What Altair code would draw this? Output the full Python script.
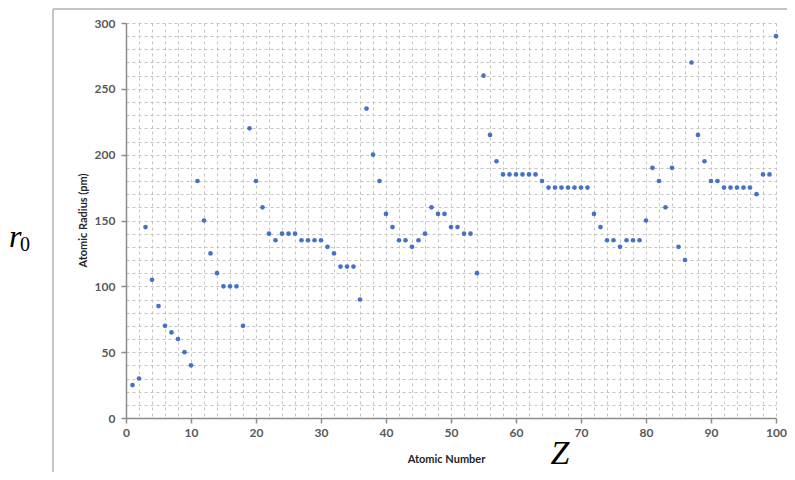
import altair as alt
import pandas as pd

atomic_number = list(range(1, 101))
atomic_radius = [
    25, 30, 145, 105, 85, 70, 65, 60, 50, 40,
    180, 150, 125, 110, 100, 100, 100, 70, 220, 180,
    160, 140, 135, 140, 140, 140, 135, 135, 135, 135,
    130, 125, 115, 115, 115, 90, 235, 200, 180, 155,
    145, 135, 135, 130, 135, 140, 160, 155, 155, 145,
    145, 140, 140, 110, 260, 215, 195, 185, 185, 185,
    185, 185, 185, 180, 175, 175, 175, 175, 175, 175,
    175, 155, 145, 135, 135, 130, 135, 135, 135, 150,
    190, 180, 160, 190, 130, 120, 270, 215, 195, 180,
    180, 175, 175, 175, 175, 175, 170, 185, 185, 290,
]
x_title = "Atomic Number"
y_title = "Atomic Radius (pm)"

df = pd.DataFrame({"Z": atomic_number, "r": atomic_radius})
one = pd.DataFrame({"a": [0]})

FONT = "Lato"

x_axis = alt.Axis(
    values=list(range(0, 101, 2)),
    labelExpr="datum.value % 10 === 0 ? datum.label : ''",
    tickOpacity={"condition": {"test": "datum.value % 10 === 0", "value": 1}, "value": 0},
    tickSize=5,
    labelPadding=4,
    labelFlush=False,
    titleX=320,
    titleY=41,
    titleBaseline="middle",
)
y_axis = alt.Axis(
    values=list(range(0, 301, 10)),
    labelExpr="datum.value % 50 === 0 ? datum.label : ''",
    tickOpacity={"condition": {"test": "datum.value % 50 === 0", "value": 1}, "value": 0},
    tickSize=5,
    labelPadding=6,
    labelFlush=False,
    titleX=-43,
    titleY=197,
    titleBaseline="middle",
    titleAngle=-90,
)

points = alt.Chart(df).mark_circle(size=22, opacity=1, color="#4472C4").encode(
    x=alt.X("Z:Q", scale=alt.Scale(domain=[0, 100], nice=False), axis=x_axis, title=x_title),
    y=alt.Y("r:Q", scale=alt.Scale(domain=[0, 300], nice=False), axis=y_axis, title=y_title),
)

frame_v = alt.Chart(one).mark_rule(color="#c4c4c4", strokeWidth=2).encode(
    x=alt.value(-73), y=alt.value(-14), y2=alt.value(460)
)
frame_h = alt.Chart(one).mark_rule(color="#c4c4c4", strokeWidth=2).encode(
    y=alt.value(-14), x=alt.value(-73), x2=alt.value(668)
)
r_text = alt.Chart(one).mark_text(
    text="r", font="Liberation Serif", fontStyle="italic", fontSize=32,
    align="left", baseline="alphabetic", color="#000000"
).encode(x=alt.value(-117), y=alt.value(224))
r_sub = alt.Chart(one).mark_text(
    text="0", font="Liberation Serif", fontSize=20,
    align="left", baseline="alphabetic", color="#000000"
).encode(x=alt.value(-106), y=alt.value(228))
z_text = alt.Chart(one).mark_text(
    text="Z", font="Liberation Serif", fontStyle="italic", fontSize=34,
    align="center", baseline="alphabetic", color="#000000"
).encode(x=alt.value(434), y=alt.value(441))

chart = alt.layer(points, frame_v, frame_h, r_text, r_sub, z_text).properties(
    width=650,
    height=395,
    autosize=alt.AutoSizeParams(type="none"),
    padding={"left": 118, "top": 15, "right": 11, "bottom": 54},
    background="white",
).configure_view(stroke=None).configure_axis(
    grid=True,
    gridColor="#c4c4c4",
    gridDash=[3, 3],
    gridWidth=1,
    domainColor="#8c8c8c",
    domainWidth=1.5,
    tickColor="#8c8c8c",
    tickWidth=1.5,
    labelFont=FONT,
    labelFontSize=12,
    labelFontWeight="bold",
    labelColor="#595959",
    titleFont=FONT,
    titleFontSize=11,
    titleFontWeight="bold",
    titleColor="#262626",
)

chart.save("out.html", embed_options={"renderer": "svg", "actions": False})
